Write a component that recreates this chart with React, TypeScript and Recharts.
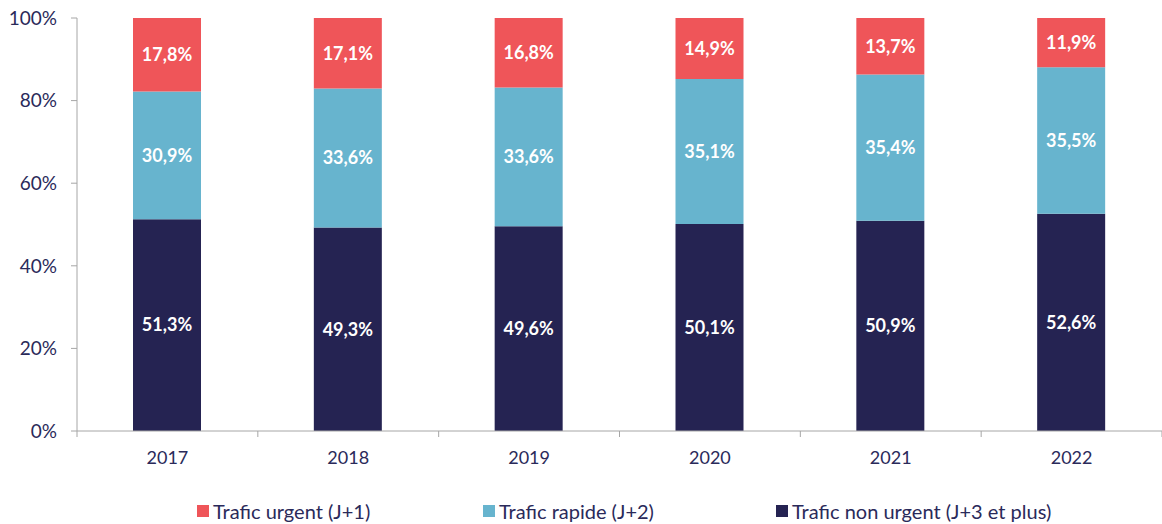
import React from 'react';
import { BarChart, Bar, XAxis, YAxis, LabelList, Legend } from 'recharts';

const years = ['2017', '2018', '2019', '2020', '2021', '2022'];
const urgent = [17.8, 17.1, 16.8, 14.9, 13.7, 11.9];
const rapide = [30.9, 33.6, 33.6, 35.1, 35.4, 35.5];
const nonUrgent = [51.3, 49.3, 49.6, 50.1, 50.9, 52.6];
const yTicks = [0, 20, 40, 60, 80, 100];

const data = years.map((year, i) => ({
  year,
  urgent: urgent[i],
  rapide: rapide[i],
  nonUrgent: nonUrgent[i],
}));

const series = [
  { key: 'urgent', name: 'Trafic urgent (J+1)', color: '#ef5559' },
  { key: 'rapide', name: 'Trafic rapide (J+2)', color: '#67b4ce' },
  { key: 'nonUrgent', name: 'Trafic non urgent (J+3 et plus)', color: '#252352' },
];

const FONT = 'Lato, "Open Sans", sans-serif';
const TEXT = '#2a2a5a';
const AXIS = '#a6a6a6';

const fmt = (v: any) => `${Number(v).toFixed(1).replace('.', ',')}%`;

// category label + tick marks at the band edges
const XTick = (props: any) => {
  const { x, y, payload, index } = props;
  const half = payload?.offset ?? 90;
  return (
    <g>
      <line x1={x - half} y1={y - 8} x2={x - half} y2={y - 2} stroke={AXIS} />
      {index === years.length - 1 && (
        <line x1={x + half} y1={y - 8} x2={x + half} y2={y - 2} stroke={AXIS} />
      )}
      <text x={x} y={y + 25} textAnchor="middle" fill={TEXT} fontSize={18} fontFamily={FONT}>
        {payload.value}
      </text>
    </g>
  );
};

const LegendContent = () => (
  <div style={{ position: 'relative', height: 24, fontFamily: FONT, fontSize: 20, color: TEXT }}>
    {series.map((s, i) => (
      <div
        key={s.key}
        style={{ position: 'absolute', left: [197, 483, 776][i], top: 0, display: 'flex', alignItems: 'center', lineHeight: '24px' }}
      >
        <span style={{ width: 12, height: 12, background: s.color, display: 'inline-block', marginRight: 4 }} />
        <span>{s.name}</span>
      </div>
    ))}
  </div>
);

export default function App() {
  return (
    <div style={{ position: 'absolute', left: 0, top: 0, background: '#fff' }}>
      <BarChart
        width={1162}
        height={524}
        data={data}
        margin={{ top: 18, right: 0, left: 0, bottom: 18 }}
      >
        <YAxis
          width={77}
          domain={[0, 100]}
          ticks={yTicks}
          allowDataOverflow
          tickFormatter={(v: number) => `${v}%`}
          tick={{ fill: TEXT, fontSize: 19, fontFamily: FONT }}
          tickSize={6}
          tickMargin={14}
          axisLine={{ stroke: AXIS }}
          tickLine={{ stroke: AXIS }}
        />
        <XAxis
          dataKey="year"
          height={50}
          tickLine={false}
          axisLine={{ stroke: AXIS }}
          tick={<XTick />}
          interval={0}
        />
        <Legend
          verticalAlign="bottom"
          wrapperStyle={{ left: 0, width: 1162, bottom: 0, top: 499 }}
          content={<LegendContent />}
        />
        {[...series].reverse().map((s) => (
          <Bar key={s.key} dataKey={s.key} name={s.name} stackId="a" fill={s.color} barSize={68} isAnimationActive={false}>
            <LabelList
              dataKey={s.key}
              position="center"
              formatter={fmt}
              fill="#ffffff"
              fontSize={18}
              fontWeight={700}
              fontFamily={FONT}
            />
          </Bar>
        ))}
      </BarChart>
    </div>
  );
}
